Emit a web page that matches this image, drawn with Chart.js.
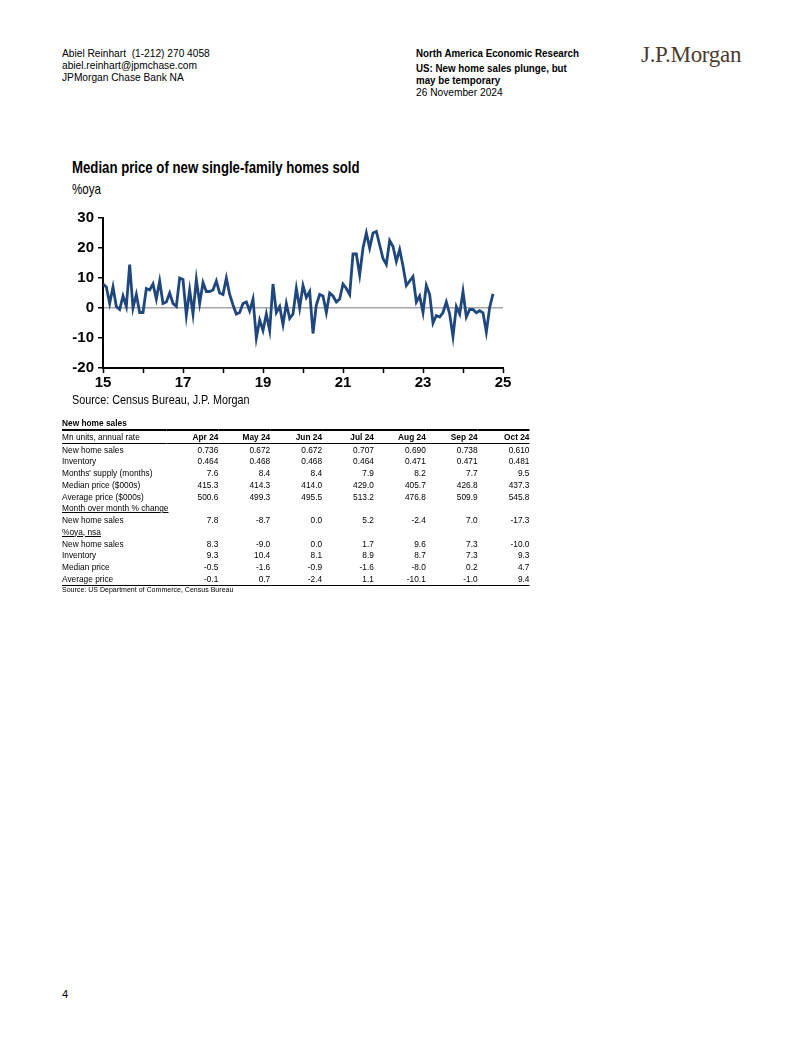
<!DOCTYPE html>
<html>
<head>
<meta charset="utf-8">
<script src="https://cdn.jsdelivr.net/npm/chart.js@4.4.1/dist/chart.umd.min.js"></script>
<style>
  body { margin: 0; background: #fff; }
  #page { position: relative; width: 802px; height: 1037px; overflow: hidden;
          font-family: "Liberation Sans", Arial, sans-serif; color: #000; }
  .t { position: absolute; white-space: nowrap; transform-origin: 0 0; }
  .hdr { font-size: 10.5px; line-height: 12px; transform: scaleX(0.97); }
  .b { font-weight: bold; }
  .narrow { transform: scaleX(0.8); }
  #logo { font-family: "Liberation Serif", "Times New Roman", serif; font-size: 23px; color: #4b3b2f; letter-spacing: -0.3px; }
  #chartBox { position: absolute; left: 62px; top: 205px; width: 460px; height: 190px; }
  table { position: absolute; left: 62px; top: 417px; border-collapse: collapse; font-size: 9.8px;
          table-layout: fixed; width: 550px; transform: scaleX(0.85); transform-origin: 0 0; }
  td { padding: 0; height: 11.75px; line-height: 11.75px; white-space: nowrap; overflow: visible; }
  td.num { text-align: right; width: 61px; }
  td.lab { width: 123px; }
  tr.top td { border-bottom: 2px solid #000; }
  tr.head td { border-bottom: 1px solid #000; }
  tr.last td { border-bottom: 1px solid #000; }
  .u { text-decoration: underline; }
</style>
</head>
<body>
<div id="page">
  <div class="t hdr" style="left:62px; top:47px;">Abiel Reinhart&nbsp; (1-212) 270 4058</div>
  <div class="t hdr" style="left:62px; top:59px;">abiel.reinhart@jpmchase.com</div>
  <div class="t hdr" style="left:62px; top:71px;">JPMorgan Chase Bank NA</div>

  <div class="t hdr b" style="left:416px; top:47px; transform: scaleX(0.93);">North America Economic Research</div>
  <div class="t hdr b" style="left:416px; top:62px; transform: scaleX(0.93);">US: New home sales plunge, but</div>
  <div class="t hdr b" style="left:416px; top:74px; transform: scaleX(0.93);">may be temporary</div>
  <div class="t hdr" style="left:416px; top:86px;">26 November 2024</div>

  <div class="t" id="logo" style="left:641px; top:42px;">J.P.Morgan</div>

  <div class="t b narrow" style="left:72px; top:158px; font-size:16.5px;">Median price of new single-family homes sold</div>
  <div class="t narrow" style="left:72px; top:181px; font-size:14.5px;">%oya</div>

  <div id="chartBox"><canvas id="chart" width="460" height="190"></canvas></div>

  <div class="t narrow" style="left:72px; top:392px; font-size:13.5px;">Source: Census Bureau, J.P. Morgan</div>

  <table id="tbl"></table>
  <div class="t" style="left:62px; top:585px; font-size:8px; transform: scaleX(0.88);">Source: US Department of Commerce, Census Bureau</div>

  <div class="t" style="left:62px; top:988px; font-size:11px;">4</div>
</div>

<script>
// median price of new single-family homes, %oya, monthly from Jan 2015 to Oct 2024
const startYear = 15;
const medianPriceOya = [
  8, 7, 1.5, 7, 0.5, -0.5, 4, 0.5, 14.5, 0, 4.5, -1.5,        // 2015
  -1.5, 6.5, 6, 8, 3, 9, 1.5, 2, 5, 1.5, 0.5, 10,            // 2016
  9.5, -2.5, 6, -2, 9.5, 1.5, 8.5, 5.5, 5.5, 6, 9, 5,         // 2017
  4.5, 10, 4.5, 1, -2, -1.5, 1.5, 2, -1, 3, -10, -4,          // 2018
  -7.5, -2, -7.5, 8, -1.5, 0.5, -5.5, 1.5, -3.5, -2, 6.5, 0,  // 2019
  7.5, 3.5, 5.5, -8.5, 1, 4.5, 4, -1.5, 5, 4, 2, 3,           // 2020
  8, 6.5, 4.5, 18, 18, 11, 20, 25, 20, 25, 25.5, 21,          // 2021
  16.5, 14.5, 22.5, 20.5, 15.5, 19.5, 14, 7.5, 9, 10.5, 2, 4, // 2022
  -1.5, 7.5, 4.5, -5, -2.5, -3, -1.5, 2, -2, -9.5, 0.5, -2,   // 2023
  5.5, -3, -0.5, -0.5, -1.6, -0.9, -1.6, -8.0, 0.2, 4.7       // 2024
];
const xTickLabels = [15, 17, 19, 21, 23, 25];
const yTicks = [-20, -10, 0, 10, 20, 30];

// table data
const tableMonths = ['Apr 24', 'May 24', 'Jun 24', 'Jul 24', 'Aug 24', 'Sep 24', 'Oct 24'];
const newHomeSales = ['0.736', '0.672', '0.672', '0.707', '0.690', '0.738', '0.610'];
const inventory = ['0.464', '0.468', '0.468', '0.464', '0.471', '0.471', '0.481'];
const monthsSupply = ['7.6', '8.4', '8.4', '7.9', '8.2', '7.7', '9.5'];
const medianPrice = ['415.3', '414.3', '414.0', '429.0', '405.7', '426.8', '437.3'];
const averagePrice = ['500.6', '499.3', '495.5', '513.2', '476.8', '509.9', '545.8'];
const momSales = ['7.8', '-8.7', '0.0', '5.2', '-2.4', '7.0', '-17.3'];
const oyaSales = ['8.3', '-9.0', '0.0', '1.7', '9.6', '7.3', '-10.0'];
const oyaInventory = ['9.3', '10.4', '8.1', '8.9', '8.7', '7.3', '9.3'];
const oyaMedian = ['-0.5', '-1.6', '-0.9', '-1.6', '-8.0', '0.2', '4.7'];
const oyaAverage = ['-0.1', '0.7', '-2.4', '1.1', '-10.1', '-1.0', '9.4'];

function buildTable() {
  const rows = [
    ['top', '<b>New home sales</b>', null],
    ['head', 'Mn units, annual rate', tableMonths, true],
    ['', 'New home sales', newHomeSales],
    ['', 'Inventory', inventory],
    ['', "Months' supply (months)", monthsSupply],
    ['', 'Median price ($000s)', medianPrice],
    ['', 'Average price ($000s)', averagePrice],
    ['', '<span class="u">Month over month % change</span>', null],
    ['', 'New home sales', momSales],
    ['', '<span class="u">%oya, nsa</span>', null],
    ['', 'New home sales', oyaSales],
    ['', 'Inventory', oyaInventory],
    ['', 'Median price', oyaMedian],
    ['last', 'Average price', oyaAverage]
  ];
  let html = '<colgroup><col style="width:123px">';
  for (let i = 0; i < 7; i++) html += '<col style="width:61px">';
  html += '</colgroup>';
  rows.forEach(function(r) {
    html += '<tr class="' + r[0] + '"><td class="lab">' + r[1] + '</td>';
    for (let i = 0; i < 7; i++) {
      const v = r[2] ? r[2][i] : '';
      html += '<td class="num">' + (r[3] ? '<b>' + v + '</b>' : v) + '</td>';
    }
    html += '</tr>';
  });
  document.getElementById('tbl').innerHTML = html;
}
buildTable();

const fontFam = '"Liberation Sans", Arial, sans-serif';

new Chart(document.getElementById('chart'), {
  type: 'line',
  data: {
    datasets: [{
      data: medianPriceOya.map(function(v, i) { return { x: startYear + i / 12, y: v }; }),
      borderColor: '#1f477d',
      borderWidth: 2.8,
      pointRadius: 0,
      tension: 0,
      fill: false
    }]
  },
  options: {
    responsive: false,
    animation: false,
    devicePixelRatio: 1,
    layout: { padding: { top: 10, right: 19, left: 0, bottom: 0 } },
    plugins: { legend: { display: false }, tooltip: { enabled: false } },
    scales: {
      x: {
        type: 'linear',
        min: 15,
        max: 25,
        afterFit: function(s) { s.height = 27; },
        afterBuildTicks: function(s) {
          s.ticks = [];
          for (let y = 15; y <= 25; y++) s.ticks.push({ value: y });
        },
        ticks: {
          autoSkip: false,
          maxRotation: 0,
          padding: 1,
          color: '#000',
          font: { family: fontFam, size: 15, weight: 'bold' },
          callback: function(v) { return xTickLabels.includes(v) ? String(v) : ''; }
        },
        grid: { drawOnChartArea: false, tickColor: '#000', tickLength: 5, tickWidth: 1.5 },
        border: { color: '#000', width: 2 }
      },
      y: {
        min: -20,
        max: 30,
        afterFit: function(s) { s.width = 41; },
        afterBuildTicks: function(s) { s.ticks = yTicks.map(function(v) { return { value: v }; }); },
        ticks: {
          padding: 4,
          color: '#000',
          font: { family: fontFam, size: 15, weight: 'bold' }
        },
        grid: {
          color: function(ctx) { return ctx.tick && ctx.tick.value === 0 ? '#a6a6a6' : 'rgba(0,0,0,0)'; },
          lineWidth: 1.5,
          tickColor: '#000',
          tickLength: 5,
          tickWidth: 1.5
        },
        border: { color: '#000', width: 2 }
      }
    }
  }
});
</script>
</body>
</html>
